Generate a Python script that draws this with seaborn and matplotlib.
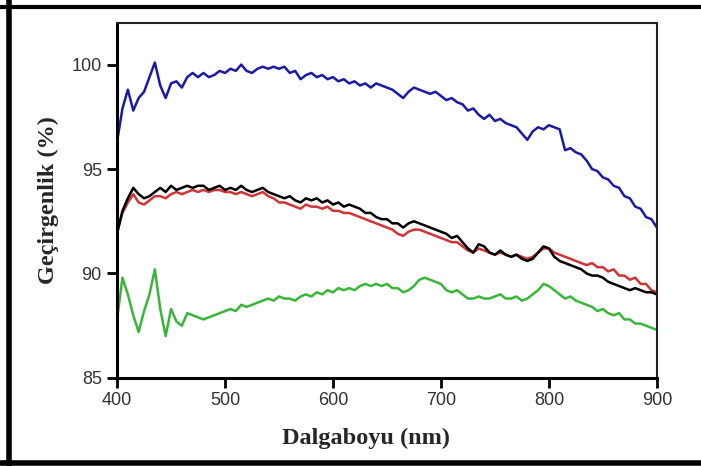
import numpy as np
import pandas as pd
import matplotlib
matplotlib.use('Agg')
import matplotlib.pyplot as plt
from matplotlib.lines import Line2D
import seaborn as sns

# wavelength grid (nm)
wavelength = list(range(400, 905, 5))

blue = [96.3, 97.9, 98.8, 97.8, 98.4, 98.7, 99.4, 100.1, 99.0, 98.4,
        99.1, 99.2, 98.9, 99.4, 99.6, 99.4, 99.6, 99.4, 99.5, 99.7,
        99.6, 99.8, 99.7, 100.0, 99.7, 99.6, 99.8, 99.9, 99.8, 99.9,
        99.8, 99.9, 99.6, 99.7, 99.3, 99.5, 99.6, 99.4, 99.5, 99.3,
        99.4, 99.2, 99.3, 99.1, 99.2, 99.0, 99.1, 98.9, 99.1, 99.0,
        98.9, 98.8, 98.6, 98.4, 98.7, 98.9, 98.8, 98.7, 98.6, 98.7,
        98.5, 98.3, 98.4, 98.2, 98.1, 97.8, 97.9, 97.6, 97.4, 97.6,
        97.3, 97.4, 97.2, 97.1, 97.0, 96.7, 96.4, 96.8, 97.0, 96.9,
        97.1, 97.0, 96.9, 95.9, 96.0, 95.8, 95.7, 95.4, 95.0, 94.9,
        94.6, 94.5, 94.2, 94.1, 93.7, 93.6, 93.2, 93.1, 92.7, 92.6,
        92.2]

black = [91.9, 93.0, 93.6, 94.1, 93.8, 93.6, 93.7, 93.9, 94.1, 93.9,
         94.2, 94.0, 94.1, 94.2, 94.1, 94.2, 94.2, 94.0, 94.1, 94.2,
         94.0, 94.1, 94.0, 94.2, 94.0, 93.9, 94.0, 94.1, 93.9, 93.8,
         93.7, 93.6, 93.7, 93.5, 93.4, 93.6, 93.5, 93.6, 93.4, 93.5,
         93.3, 93.4, 93.2, 93.3, 93.2, 93.1, 92.9, 92.9, 92.7, 92.6,
         92.6, 92.4, 92.4, 92.2, 92.4, 92.5, 92.4, 92.3, 92.2, 92.1,
         92.0, 91.9, 91.7, 91.8, 91.5, 91.2, 91.0, 91.4, 91.3, 91.0,
         90.9, 91.1, 90.9, 90.8, 90.9, 90.7, 90.6, 90.7, 91.0, 91.3,
         91.2, 90.8, 90.6, 90.5, 90.4, 90.3, 90.2, 90.0, 89.9, 89.9,
         89.8, 89.6, 89.5, 89.4, 89.3, 89.2, 89.3, 89.2, 89.1, 89.1,
         89.0]

red = [92.0, 92.9, 93.4, 93.8, 93.4, 93.3, 93.5, 93.7, 93.7, 93.6,
       93.8, 93.9, 93.8, 93.9, 94.0, 93.9, 94.0, 93.9, 94.0, 94.0,
       93.9, 93.9, 93.8, 93.9, 93.8, 93.7, 93.8, 93.9, 93.7, 93.6,
       93.4, 93.4, 93.3, 93.2, 93.1, 93.3, 93.2, 93.2, 93.1, 93.2,
       93.0, 93.0, 92.9, 92.9, 92.8, 92.7, 92.6, 92.5, 92.4, 92.3,
       92.2, 92.1, 91.9, 91.8, 92.0, 92.1, 92.1, 92.0, 91.9, 91.8,
       91.7, 91.6, 91.5, 91.5, 91.3, 91.1, 91.0, 91.2, 91.1, 91.0,
       90.9, 91.0, 90.9, 90.8, 90.9, 90.8, 90.7, 90.8, 91.0, 91.2,
       91.2, 91.0, 90.9, 90.8, 90.7, 90.6, 90.5, 90.4, 90.5, 90.3,
       90.3, 90.1, 90.2, 89.9, 89.9, 89.7, 89.8, 89.5, 89.5, 89.2,
       89.1]

green = [87.8, 89.8, 89.0, 88.0, 87.2, 88.2, 89.0, 90.2, 88.3, 87.0,
         88.3, 87.7, 87.5, 88.1, 88.0, 87.9, 87.8, 87.9, 88.0, 88.1,
         88.2, 88.3, 88.2, 88.5, 88.4, 88.5, 88.6, 88.7, 88.8, 88.7,
         88.9, 88.8, 88.8, 88.7, 88.9, 89.0, 88.9, 89.1, 89.0, 89.2,
         89.1, 89.3, 89.2, 89.3, 89.2, 89.4, 89.5, 89.4, 89.5, 89.4,
         89.5, 89.3, 89.3, 89.1, 89.2, 89.4, 89.7, 89.8, 89.7, 89.6,
         89.5, 89.2, 89.1, 89.2, 89.0, 88.8, 88.8, 88.9, 88.8, 88.8,
         88.9, 89.0, 88.8, 88.8, 88.9, 88.7, 88.8, 89.0, 89.2, 89.5,
         89.4, 89.2, 89.0, 88.8, 88.9, 88.7, 88.6, 88.5, 88.4, 88.2,
         88.3, 88.1, 88.0, 88.1, 87.8, 87.8, 87.6, 87.6, 87.5, 87.4,
         87.3]

series = {'blue': blue, 'red': red, 'black': black, 'green': green}
colors = {'blue': '#1a1aa8', 'red': '#d03535', 'black': '#000000', 'green': '#38b638'}

df = pd.concat([pd.DataFrame({'wl': wavelength, 'T': v, 's': k}) for k, v in series.items()])

sns.set_style('white')
fig = plt.figure(figsize=(7.01, 4.66), dpi=100)
ax = fig.add_axes([0.167, 0.189, 0.770, 0.762])

sns.lineplot(data=df, x='wl', y='T', hue='s', palette=colors, linewidth=1.8,
             legend=False, ax=ax, estimator=None, sort=False)

ax.set_xlim(400, 900)
ax.set_ylim(85, 102)
ax.set_xticks([400, 500, 600, 700, 800, 900])
ax.set_yticks([85, 90, 95, 100])

for lab in ax.get_xticklabels() + ax.get_yticklabels():
    lab.set_fontfamily('Liberation Sans')
    lab.set_fontsize(13)
    lab.set_color('#333333')
ax.tick_params(axis='both', direction='out', length=7, width=2, color='black',
               bottom=True, left=True)
ax.tick_params(axis='x', pad=3)
ax.tick_params(axis='y', pad=4)

for side in ['left', 'bottom']:
    ax.spines[side].set_linewidth(2.2)
    ax.spines[side].set_color('black')
for side in ['top', 'right']:
    ax.spines[side].set_linewidth(1.5)
    ax.spines[side].set_color('#222222')

ax.set_xlabel('Dalgaboyu (nm)', fontfamily='Liberation Serif', fontweight='bold',
              fontsize=17.5)
ax.set_ylabel('Geçirgenlik (%)', fontfamily='Liberation Serif', fontweight='bold',
              fontsize=17.5)
ax.xaxis.set_label_coords(0.461, -0.14)
ax.yaxis.set_label_coords(-0.108, 0.5)

# outer frame (left, top, bottom)
fig.add_artist(Line2D([0.0135, 0.0135], [0.0, 1.0], transform=fig.transFigure, color='black', linewidth=4))
fig.add_artist(Line2D([0.0, 1.0], [0.986, 0.986], transform=fig.transFigure, color='black', linewidth=3))
fig.add_artist(Line2D([0.0, 1.0], [0.0075, 0.0075], transform=fig.transFigure, color='black', linewidth=4))

fig.savefig('out.png', dpi=100)
